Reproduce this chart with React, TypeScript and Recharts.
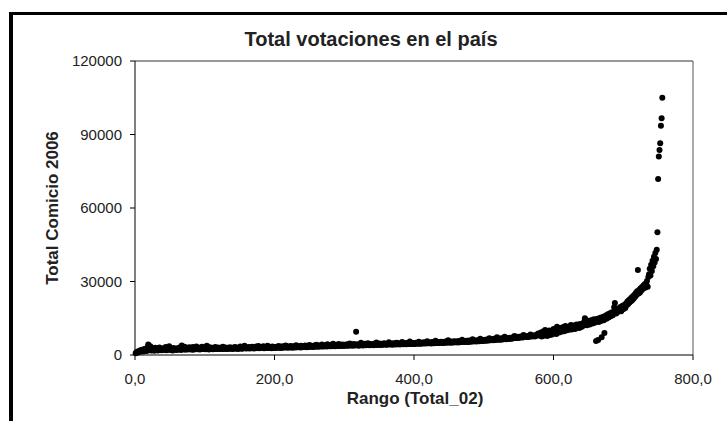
import { ScatterChart, Scatter, XAxis, YAxis, ReferenceLine } from 'recharts';

// Total de votos por comuna, ordenado por rango (1..756)
const totalComicio2006: number[] = [
  // 1-20
  700, 1100, 900, 1400, 1200, 1600, 1300, 1900, 1500, 2100, 1700, 1400, 2300, 1800, 2600, 2000, 1600, 3200, 4300, 2400,
  // 21-40
  2100, 3600, 1800, 2500, 1900, 2800, 2200, 1700, 3000, 2400, 2000, 2600, 1800, 2300, 3100, 2100, 2700, 1900, 2400, 2200,
  // 41-60
  2800, 2000, 2500, 3300, 1900, 2300, 2700, 2100, 3600, 2400, 2000, 2600, 2200, 1800, 2900, 2300, 2500, 2100, 2700, 2000,
  // 61-80
  2400, 2800, 2200, 3100, 2600, 2000, 3900, 2500, 2300, 2900, 3400, 2100, 2700, 2400, 3000, 2200, 2600, 3200, 2300, 2800,
  // 81-100
  2500, 2100, 3300, 2600, 2200, 2900, 2400, 3500, 2700, 2300, 2600, 3000, 2200, 2800, 2500, 3400, 2400, 2700, 3100, 2600,
  // 101-120
  2300, 2900, 3800, 2500, 2800, 2200, 3200, 2600, 2400, 3000, 2700, 2300, 2900, 2500, 3300, 2600, 2800, 2400, 3100, 2700,
  // 121-140
  2500, 3000, 2600, 2900, 2400, 3400, 2700, 2500, 3100, 2800, 2600, 3000, 2400, 2900, 2700, 3200, 2600, 2800, 3000, 2500,
  // 141-160
  2900, 2700, 3300, 2800, 2600, 3100, 2900, 2500, 3000, 2800, 3500, 2700, 3000, 2600, 3200, 2900, 3800, 2800, 3100, 2700,
  // 161-180
  3000, 2900, 3300, 2700, 3100, 2800, 3000, 3400, 2900, 2700, 3200, 3000, 2800, 3500, 2900, 3100, 3700, 2800, 3300, 3000,
  // 181-200
  2900, 3200, 3000, 3600, 2800, 3100, 3300, 2900, 3000, 3800, 3100, 2900, 3400, 3000, 3200, 2800, 3500, 3100, 3000, 3300,
  // 201-220
  3100, 2900, 3400, 3200, 3000, 3700, 3100, 3300, 2900, 3500, 3200, 3000, 3600, 3300, 3100, 3900, 3200, 3400, 3000, 3500,
  // 221-240
  3300, 3100, 3700, 3200, 3400, 3000, 3600, 3300, 3500, 3100, 4000, 3400, 3200, 3600, 3300, 3500, 3100, 3800, 3400, 3200,
  // 241-260
  3600, 3300, 3500, 3900, 3400, 3200, 3700, 3500, 3300, 4100, 3600, 3400, 3800, 3500, 3300, 3700, 3900, 3400, 3600, 4200,
  // 261-280
  3500, 3700, 3400, 3900, 3600, 3800, 3500, 4300, 3700, 3500, 3900, 3600, 4000, 3800, 3500, 4400, 3700, 3900, 3600, 4100,
  // 281-300
  3800, 3600, 4000, 4600, 3700, 3900, 3600, 4200, 3800, 4000, 3700, 4500, 3900, 3700, 4100, 3800, 4300, 4000, 3700, 4200,
  // 301-320
  3900, 4100, 3800, 4400, 4000, 3800, 4200, 4700, 3900, 4100, 4300, 3800, 4000, 4500, 4200, 3900, 9500, 4100, 4400, 4000,
  // 321-340
  3800, 4300, 4100, 5000, 4000, 4200, 3900, 4400, 4100, 4600, 4000, 4300, 4100, 4800, 4200, 4000, 4500, 4200, 4400, 4100,
  // 341-360
  4300, 4000, 4600, 4200, 4400, 5100, 4100, 4300, 4500, 4200, 4700, 4300, 4100, 4500, 4400, 4200, 4800, 4400, 4600, 4300,
  // 361-380
  4200, 4600, 4400, 5200, 4300, 4500, 4700, 4400, 4200, 4600, 4800, 4400, 4500, 4300, 5000, 4600, 4400, 4800, 4500, 4300,
  // 381-400
  4700, 4500, 5300, 4600, 4400, 4800, 4500, 4700, 4400, 4900, 4600, 4800, 4500, 5500, 4700, 4500, 4900, 4600, 4800, 4500,
  // 401-420
  4800, 4600, 5000, 4700, 4900, 4600, 5400, 4800, 4600, 5000, 4700, 4900, 4700, 5200, 4800, 5000, 4700, 4900, 5600, 4800,
  // 421-440
  5000, 4800, 5100, 4900, 4700, 5300, 4900, 5100, 4800, 5000, 5800, 4900, 5100, 5000, 5300, 4900, 5200, 5000, 5400, 5100,
  // 441-460
  4900, 5300, 5100, 5000, 5500, 5200, 5000, 5400, 6000, 5100, 5300, 5200, 5000, 5500, 5200, 5400, 5100, 5600, 5300, 5200,
  // 461-480
  5500, 5300, 5100, 5700, 5400, 5200, 5600, 5300, 6200, 5500, 5400, 5700, 5300, 5600, 5400, 5800, 5500, 5300, 5900, 5600,
  // 481-500
  5400, 5800, 5600, 6400, 5500, 5700, 5900, 5600, 5800, 5500, 6000, 5700, 5900, 5600, 6600, 5800, 6000, 5700, 6100, 5900,
  // 501-520
  5800, 6200, 6000, 5800, 6300, 6100, 5900, 6800, 6200, 6000, 6400, 6100, 6300, 6000, 6600, 6300, 6100, 6500, 7200, 6400,
  // 521-540
  6200, 6600, 6400, 6200, 6800, 6500, 6300, 6700, 6500, 7500, 6700, 6400, 6900, 6600, 6800, 6500, 7000, 6700, 6900, 6600,
  // 541-560
  7100, 6800, 7000, 7800, 6900, 7200, 7000, 7400, 7100, 6900, 7300, 7100, 7600, 7200, 7400, 7100, 8200, 7500, 7300, 7700,
  // 561-580
  7400, 7600, 7300, 7800, 7500, 7700, 8400, 7600, 7900, 7700, 8000, 7800, 7600, 8100, 7900, 8300, 8000, 8800, 8100, 8300,
  // 581-600
  8000, 9200, 7600, 8800, 9600, 7900, 8500, 10200, 8300, 9000, 7800, 9400, 8700, 10000, 8200, 9100, 9700, 8400, 9900, 10600,
  // 601-620
  9000, 10400, 9300, 8600, 11500, 9800, 10900, 9200, 10100, 11000, 9500, 10600, 9900, 11400, 9700, 10300, 11800, 10000, 10800, 11200,
  // 621-640
  10200, 11600, 10500, 11000, 12200, 10400, 11300, 10800, 12000, 11100, 10600, 11800, 12500, 11200, 11700, 12300, 11000, 12700, 11900, 11400,
  // 641-660
  12400, 11800, 13000, 13600, 15000, 14400, 12600, 12100, 13300, 12800, 14000, 12500, 13500, 13100, 14300, 12900, 13800, 14600, 13200, 14100,
  // 661-680
  5700, 13700, 14800, 6100, 13500, 14500, 15200, 13900, 7200, 14900, 15600, 14200, 9000, 15400, 16100, 14800, 15900, 16600, 15300, 16300,
  // 681-700
  17000, 15800, 16700, 17500, 16200, 17300, 19500, 21200, 17800, 16900, 18300, 17600, 19000, 18100, 18800, 19600, 17900, 19300, 20100, 18700,
  // 701-720
  19800, 20500, 19200, 21000, 20300, 21800, 20800, 22300, 21400, 22900, 21900, 23500, 22400, 24000, 23100, 24600, 23800, 25300, 24500, 26000,
  // 721-740
  34700, 25100, 26600, 25500, 27200, 26300, 27800, 26900, 28400, 27500, 29000, 27600, 28800, 30200, 27900, 31800, 33000, 35200, 32400, 36800,
  // 741-756
  34300, 38500, 36200, 40100, 37800, 41600, 39200, 43000, 50100, 71800, 81000, 83700, 86400, 93600, 96600, 105000,
];

const xTicks = [0, 200, 400, 600, 800];
const yTicks = [0, 30000, 60000, 90000, 120000];

const data = totalComicio2006.map((total, i) => ({ rango: i + 1, total }));

const FONT = '"Liberation Sans", Arial, sans-serif';

const Dot = (props: any) => <circle cx={props.cx} cy={props.cy} r={3} fill="#000" />;

export default function App() {
  return (
    <div style={{ position: 'absolute', left: 0, top: 0, width: 727, height: 421, background: '#fff' }}>
      <ScatterChart width={727} height={421} margin={{ top: 61, right: 34, bottom: 26, left: 0 }}>
        <XAxis
          type="number"
          dataKey="rango"
          domain={[0, 800]}
          ticks={xTicks}
          height={40}
          tickSize={5}
          tickMargin={13}
          stroke="#000"
          tick={{ fontSize: 15, fill: '#222', fontFamily: FONT }}
          tickFormatter={(v: number) => v.toFixed(1).replace('.', ',')}
        />
        <YAxis
          type="number"
          dataKey="total"
          domain={[0, 120000]}
          ticks={yTicks}
          width={135}
          tickSize={5}
          tickMargin={8}
          stroke="#000"
          tick={{ fontSize: 15, fill: '#222', fontFamily: FONT }}
        />
        <ReferenceLine y={120000} stroke="#333" />
        <ReferenceLine x={800} stroke="#555" />
        <Scatter data={data} shape={Dot} isAnimationActive={false} />
      </ScatterChart>
      <svg width={727} height={421} style={{ position: 'absolute', left: 0, top: 0, pointerEvents: 'none' }}>
        <rect x={9} y={12} width={718} height={3} fill="#000" />
        <rect x={9} y={12} width={4} height={409} fill="#000" />
        <text x={371} y={46} textAnchor="middle" fontFamily={FONT} fontSize={20} fontWeight="bold" fill="#222">
          Total votaciones en el país
        </text>
        <text x={415} y={404} textAnchor="middle" fontFamily={FONT} fontSize={17} fontWeight="bold" fill="#222">
          Rango (Total_02)
        </text>
        <text
          x={0}
          y={0}
          transform="translate(58 208) rotate(-90)"
          textAnchor="middle"
          fontFamily={FONT}
          fontSize={17}
          fontWeight="bold"
          fill="#222"
        >
          Total Comicio 2006
        </text>
      </svg>
    </div>
  );
}
